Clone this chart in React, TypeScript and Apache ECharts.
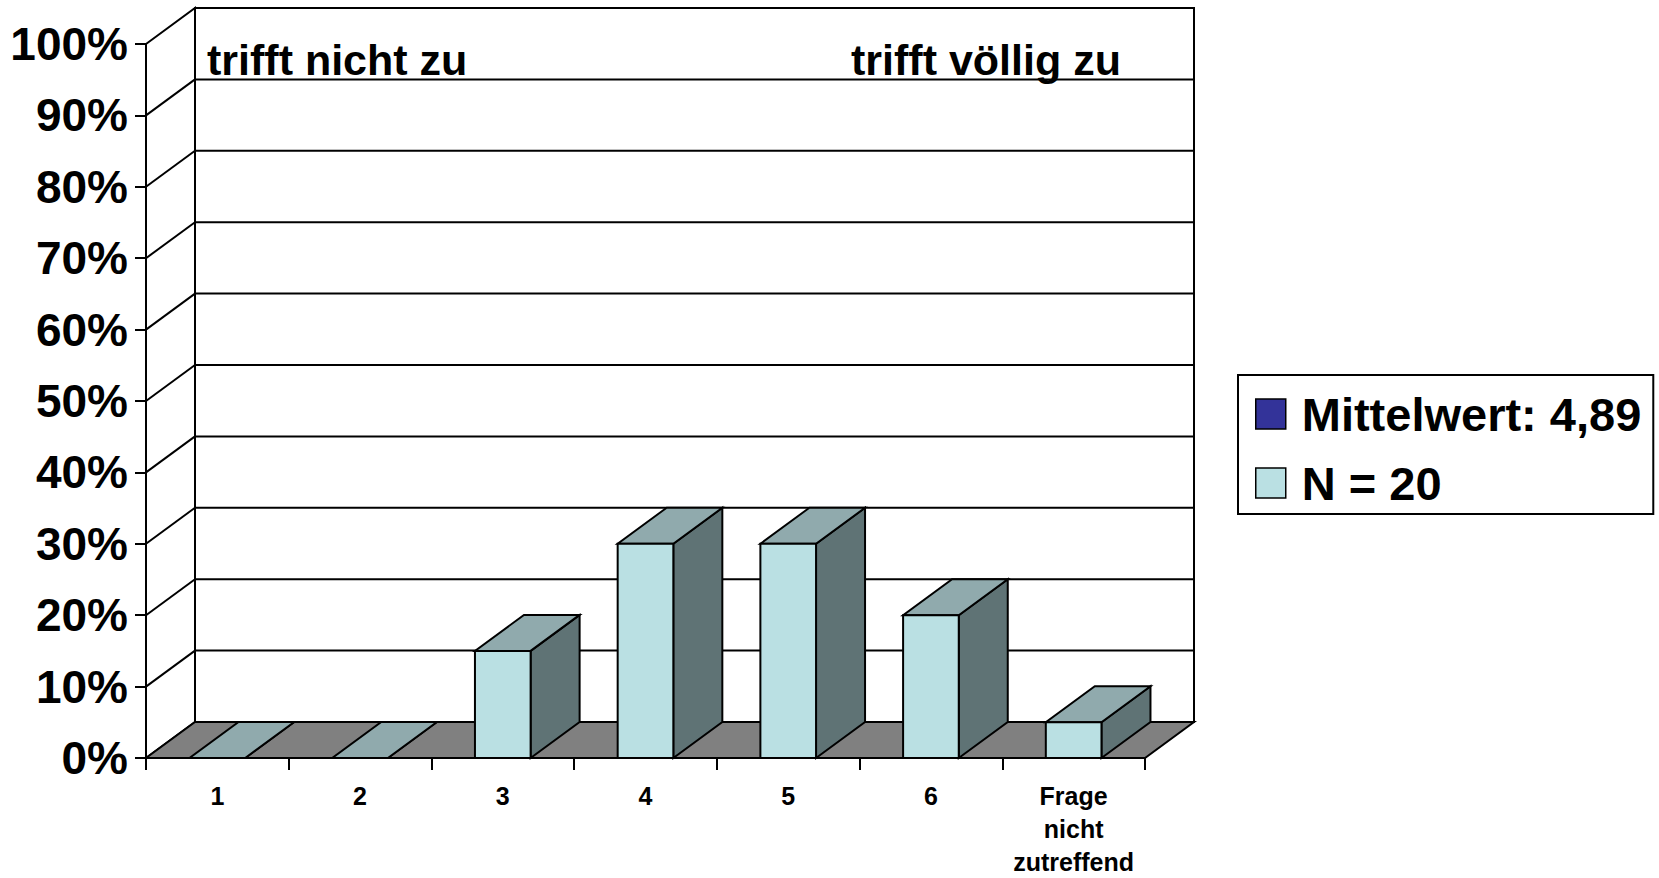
import React, { useEffect, useRef } from "react";
import * as echarts from "echarts";

const categories = ["1", "2", "3", "4", "5", "6", "Frage\nnicht\nzutreffend"];
const shares = [0, 0, 0.15, 0.3, 0.3, 0.2, 0.05];
const legendNames = ["Mittelwert: 4,89", "N = 20"];
const scaleNotes = ["trifft nicht zu", "trifft völlig zu"];

const FONT = "'Liberation Sans', Arial, sans-serif";
const DX = 49;
const DY = 36;
const C_FRONT = "#BAE0E3";
const C_TOP = "#90AAAD";
const C_SIDE = "#5F7375";
const C_FLOOR = "#808080";
const C_MEAN = "#333399";

export default function App() {
  const ref = useRef<HTMLDivElement>(null);
  useEffect(() => {
    if (!ref.current) return;
    const chart = echarts.init(ref.current, undefined, { renderer: "svg" });
    const line = { stroke: "#000", lineWidth: 2 };

    const wallsRender = (params: any, api: any) => {
      const cs = params.coordSys;
      const left = cs.x;
      const right = cs.x + cs.width;
      const yOf = (v: number) => api.coord([0, v])[1];
      const y0 = yOf(0);
      const y1 = yOf(1);
      const children: any[] = [
        {
          type: "rect",
          shape: { x: left + DX, y: y1 - DY, width: right - left, height: y0 - y1 },
          style: { fill: "#fff", ...line },
        },
        {
          type: "polygon",
          shape: { points: [[left, y1], [left + DX, y1 - DY], [left + DX, y0 - DY], [left, y0]] },
          style: { fill: "#fff", ...line },
        },
      ];
      for (let i = 1; i < 10; i++) {
        const y = yOf(i / 10);
        children.push({
          type: "line",
          shape: { x1: left + DX, y1: y - DY, x2: right + DX, y2: y - DY },
          style: line,
        });
        children.push({
          type: "line",
          shape: { x1: left, y1: y, x2: left + DX, y2: y - DY },
          style: line,
        });
      }
      children.push({
        type: "polygon",
        shape: { points: [[left, y0], [right, y0], [right + DX, y0 - DY], [left + DX, y0 - DY]] },
        style: { fill: C_FLOOR, ...line, lineJoin: "miter" },
      });
      return { type: "group", children };
    };

    const barRender = (params: any, api: any) => {
      const idx = api.value(0);
      const val = api.value(1);
      const [cx, yt] = api.coord([idx, val]);
      const [, y0] = api.coord([idx, 0]);
      const bw = api.size([1, 0])[0] * 0.39;
      const x0 = cx - bw / 2;
      const x1 = cx + bw / 2;
      return {
        type: "group",
        children: [
          {
            type: "polygon",
            shape: { points: [[x1, y0], [x1 + DX, y0 - DY], [x1 + DX, yt - DY], [x1, yt]] },
            style: { fill: C_SIDE, ...line },
          },
          {
            type: "polygon",
            shape: { points: [[x0, yt], [x1, yt], [x1 + DX, yt - DY], [x0 + DX, yt - DY]] },
            style: { fill: C_TOP, ...line },
          },
          {
            type: "rect",
            shape: { x: x0, y: yt, width: bw, height: y0 - yt },
            style: { fill: C_FRONT, ...line },
          },
        ],
      };
    };

    chart.setOption({
      animation: false,
      grid: { left: 146, right: 514, top: 44, bottom: 115, containLabel: false },
      xAxis: {
        type: "category",
        data: categories,
        axisLine: { show: true, lineStyle: { color: "#000", width: 2 } },
        axisTick: { show: true, length: 12, lineStyle: { color: "#000", width: 2 } },
        axisLabel: {
          interval: 0,
          margin: 21,
          color: "#000",
          fontFamily: FONT,
          fontWeight: "bold",
          fontSize: 25,
          lineHeight: 33,
        },
        splitLine: { show: false },
      },
      yAxis: {
        type: "value",
        min: 0,
        max: 1,
        interval: 0.1,
        axisLine: { show: true, lineStyle: { color: "#000", width: 2 } },
        axisTick: { show: true, length: 11, lineStyle: { color: "#000", width: 2 } },
        axisLabel: {
          margin: 18,
          color: "#000",
          fontFamily: FONT,
          fontWeight: "bold",
          fontSize: 46,
          formatter: (v: number) => Math.round(v * 100) + "%",
        },
        splitLine: { show: false },
      },
      legend: {
        orient: "vertical",
        left: 1238,
        top: 375,
        padding: [14, 12, 6, 17],
        itemGap: 19,
        itemWidth: 30,
        itemHeight: 30,
        icon: "rect",
        selectedMode: false,
        borderColor: "#000",
        borderWidth: 2,
        backgroundColor: "#fff",
        itemStyle: { borderColor: "#000", borderWidth: 1.5 },
        textStyle: {
          color: "#000",
          fontFamily: FONT,
          fontWeight: "bold",
          fontSize: 47,
          lineHeight: 50,
          padding: [0, 0, 0, 11],
        },
        data: legendNames,
      },
      graphic: [
        {
          type: "text",
          x: 207,
          y: 60,
          style: {
            text: scaleNotes[0],
            font: `bold 43px ${FONT}`,
            fill: "#000",
            verticalAlign: "middle",
          },
          z: 10,
        },
        {
          type: "text",
          x: 851,
          y: 60,
          style: {
            text: scaleNotes[1],
            font: `bold 43px ${FONT}`,
            fill: "#000",
            verticalAlign: "middle",
          },
          z: 10,
        },
      ],
      series: [
        {
          type: "custom",
          name: "walls",
          clip: false,
          silent: true,
          z: 1,
          renderItem: wallsRender,
          data: [[0, 0]],
        },
        {
          type: "bar",
          name: legendNames[0],
          itemStyle: { color: C_MEAN },
          data: [],
        },
        {
          type: "custom",
          name: legendNames[1],
          clip: false,
          z: 3,
          itemStyle: { color: C_FRONT },
          renderItem: barRender,
          data: shares.map((v, i) => [i, v]),
        },
      ],
    });
    return () => chart.dispose();
  }, []);
  return (
    <div
      ref={ref}
      style={{ position: "fixed", left: 0, top: 0, width: 1659, height: 878, background: "#fff" }}
    />
  );
}
